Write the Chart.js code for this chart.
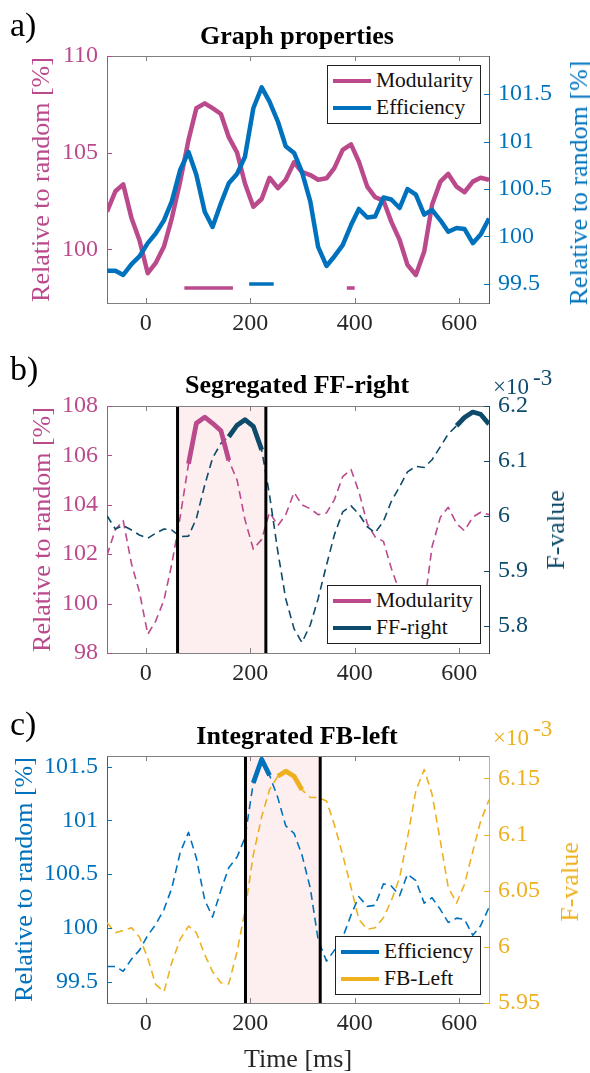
<!DOCTYPE html>
<html>
<head>
<meta charset="utf-8">
<script src="https://cdn.jsdelivr.net/npm/chart.js@4.4.1/dist/chart.umd.min.js"></script>
<style>
  body { margin: 0; background: #fff; }
  #fig { position: relative; width: 590px; height: 1073px; overflow: hidden; font-family: 'Liberation Serif', 'Times New Roman', serif; }
  #fig canvas { position: absolute; left: 0; }
  .txt { position: absolute; white-space: nowrap; line-height: 1; }
  .legend { position: absolute; background: #fff; border: 1px solid #222; box-sizing: border-box; }
  .legend .sw { position: absolute; height: 4.5px; width: 38px; }
  .legend .lt { position: absolute; font-size: 21.5px; line-height: 1; color: #111; white-space: nowrap; }
</style>
</head>
<body>
<div id="fig">
  <canvas id="panelA" width="590" height="345" style="top:0px"></canvas>
  <canvas id="panelB" width="590" height="355" style="top:345px"></canvas>
  <canvas id="panelC" width="590" height="373" style="top:700px"></canvas>
</div>
<script>
// time axis (ms), one sample every ~15.5 ms
const time = [-74, -58, -43, -27, -12, 4, 19, 35, 50, 66, 82, 97, 113, 128, 144, 159,
  175, 190, 206, 222, 237, 253, 268, 284, 299, 315, 330, 346, 361, 377, 393, 408,
  424, 439, 455, 470, 486, 501, 517, 533, 548, 564, 579, 595, 610, 626, 641, 657];

// relative to random [%]
const modularity = [101.95, 103.0, 103.36, 101.6, 100.48, 98.76, 99.28, 100.14, 101.6, 103.5,
  105.66, 107.3, 107.55, 107.3, 107.0, 105.8, 105.0, 103.4, 102.2, 102.6,
  103.7, 103.16, 103.6, 104.5, 104.0, 103.84, 103.6, 103.67, 104.2, 105.14,
  105.43, 104.53, 103.24, 102.7, 102.52, 101.43, 100.48, 99.19, 98.67, 99.88,
  102.3, 103.5, 103.9, 103.24, 102.95, 103.5, 103.7, 103.6];
const efficiency = [99.64, 99.64, 99.595, 99.71, 99.79, 99.93, 100.03, 100.17, 100.37, 100.7,
  100.89, 100.65, 100.26, 100.1, 100.35, 100.56, 100.66, 100.84, 101.35, 101.57,
  101.42, 101.21, 100.95, 100.88, 100.68, 100.37, 99.89, 99.69, 99.79, 99.91,
  100.12, 100.29, 100.2, 100.21, 100.41, 100.39, 100.3, 100.5, 100.44, 100.23,
  100.28, 100.17, 100.05, 100.09, 100.08, 99.93, 100.02, 100.19];

// F-values (x 10^-3)
const ffRight = [6.0, 5.976, 5.982, 5.974, 5.965, 5.959, 5.968, 5.976, 5.974, 5.962,
  5.963, 5.995, 6.056, 6.105, 6.132, 6.144, 6.165, 6.175, 6.163, 6.12,
  6.038, 5.934, 5.849, 5.794, 5.769, 5.801, 5.849, 5.91, 5.965, 6.007,
  6.018, 6.003, 5.98, 5.969, 5.99, 6.026, 6.053, 6.08, 6.09, 6.088,
  6.102, 6.126, 6.149, 6.164, 6.179, 6.189, 6.185, 6.167];
const fbLeft = [6.0215, 6.0126, 6.0147, 6.017, 6.0088, 5.99, 5.9666, 5.96, 5.986, 6.0067,
  6.0185, 6.0126, 5.993, 5.978, 5.968, 5.967, 5.996, 6.032, 6.082, 6.116,
  6.14, 6.152, 6.1565, 6.152, 6.14, 6.133, 6.133, 6.13, 6.109, 6.082,
  6.053, 6.0245, 6.0156, 6.017, 6.026, 6.041, 6.0616, 6.097, 6.139, 6.158,
  6.136, 6.094, 6.053, 6.039, 6.0556, 6.085, 6.112, 6.131];

// tick labels
const xTicks = [0, 200, 400, 600];
const modTicksA = [100, 105, 110];
const effTicksA = [99.5, 100, 100.5, 101, 101.5];
const modTicksB = [98, 100, 102, 104, 106, 108];
const ffTicksB = [5.8, 5.9, 6, 6.1, 6.2];
const effTicksC = [99.5, 100, 100.5, 101, 101.5];
const fbTicksC = [5.95, 6, 6.05, 6.1, 6.15];

// significant stretches (ms) and analysis windows
const modSigA = [[74, 167], [385, 400]];
const effSigA = [[198, 245]];
const windowB = [61, 230];
const modSigB = [[82, 159]];
const ffSigB = [[159, 222], [595, 657]];
const windowC = [191, 334];
const effSigC = [[206, 237]];
const fbSigC = [[253, 299]];

const PINK = '#bb4a8c';
const BLUE = '#0072bd';
const NAVY = '#0e4a6a';
const YELLOW = '#edb120';
const BOX = '#808080';
const SERIF = "'Liberation Serif', 'Times New Roman', serif";
const TICK_SIZE = 24;

const pts = vals => time.map((t, i) => ({ x: t, y: vals[i] }));
const inRanges = (t, ranges) => ranges.some(([lo, hi]) => t >= lo && t <= hi);
const sigPts = (vals, ranges) => time.map((t, i) => ({ x: t, y: inRanges(t, ranges) ? vals[i] : null }));
const barPts = (ranges, level) => ranges.flatMap(([lo, hi]) => [{ x: lo, y: level }, { x: hi, y: level }, { x: hi, y: null }]);

// box top edge, inward ticks, shaded window
const panelDecor = {
  id: 'panelDecor',
  beforeDatasetsDraw(chart, args, opts) {
    if (!opts.window) return;
    const { ctx, chartArea: a, scales: { x } } = chart;
    const x0 = x.getPixelForValue(opts.window[0]);
    const x1 = x.getPixelForValue(opts.window[1]);
    ctx.save();
    ctx.fillStyle = '#fdeff0';
    ctx.fillRect(x0, a.top, x1 - x0, a.bottom - a.top);
    ctx.restore();
  },
  afterDatasetsDraw(chart, args, opts) {
    const { ctx, chartArea: a, scales } = chart;
    ctx.save();
    if (opts.window) {
      ctx.strokeStyle = '#000';
      ctx.lineWidth = 3;
      opts.window.forEach(v => {
        const px = scales.x.getPixelForValue(v);
        ctx.beginPath(); ctx.moveTo(px, a.top); ctx.lineTo(px, a.bottom); ctx.stroke();
      });
    }
    ctx.lineWidth = 1;
    ctx.strokeStyle = BOX;
    ctx.beginPath(); ctx.moveTo(a.left, a.top + 0.5); ctx.lineTo(a.right, a.top + 0.5); ctx.stroke();
    const len = 5;
    scales.x.ticks.forEach(t => {
      const px = Math.round(scales.x.getPixelForValue(t.value)) + 0.5;
      ctx.beginPath();
      ctx.moveTo(px, a.bottom); ctx.lineTo(px, a.bottom - len);
      ctx.moveTo(px, a.top); ctx.lineTo(px, a.top + len);
      ctx.stroke();
    });
    ['y', 'y1'].forEach(id => {
      const s = scales[id];
      const left = s.position === 'left';
      const edge = left ? a.left : a.right;
      ctx.strokeStyle = s.options.border.color;
      s.ticks.forEach(t => {
        const py = Math.round(s.getPixelForValue(t.value)) + 0.5;
        ctx.beginPath(); ctx.moveTo(edge, py); ctx.lineTo(edge + (left ? len : -len), py); ctx.stroke();
      });
    });
    ctx.restore();
  }
};

function yAxis(position, min, max, ticks, color, width, title, titlePad) {
  return {
    type: 'linear', position, min, max, bounds: 'data',
    afterBuildTicks: s => { s.ticks = ticks.map(v => ({ value: v })); },
    afterFit: s => { s.width = width; },
    grid: { drawOnChartArea: false, drawTicks: false },
    border: { color, width: 1 },
    ticks: { color, padding: 9, font: { family: SERIF, size: TICK_SIZE }, callback: v => String(v) },
    title: title
      ? { display: true, text: title, color, font: { family: SERIF, size: 26, lineHeight: 1 }, padding: { top: titlePad, bottom: 0 } }
      : { display: false }
  };
}

function xAxis(height, title) {
  return {
    type: 'linear', min: -74, max: 657, bounds: 'data',
    afterBuildTicks: s => { s.ticks = xTicks.map(v => ({ value: v })); },
    afterFit: s => { s.height = height; },
    grid: { drawOnChartArea: false, drawTicks: false },
    border: { color: BOX, width: 1 },
    ticks: { color: '#262626', padding: 6, maxRotation: 0, autoSkip: false, font: { family: SERIF, size: TICK_SIZE } },
    title: title
      ? { display: true, text: title, color: '#262626', font: { family: SERIF, size: 26, lineHeight: 1 }, padding: { top: 0, bottom: 0 } }
      : { display: false }
  };
}

function makeChart(id, padTop, datasets, scales, decor) {
  return new Chart(document.getElementById(id), {
    type: 'line',
    data: { datasets },
    options: {
      responsive: false,
      animation: false,
      devicePixelRatio: 1,
      layout: { padding: { top: padTop, left: 0, right: 0, bottom: 0 } },
      elements: { point: { radius: 0 }, line: { tension: 0, borderJoinStyle: 'round' } },
      plugins: { legend: { display: false }, tooltip: { enabled: false }, panelDecor: decor },
      scales
    },
    plugins: [panelDecor]
  });
}

const dashed = { borderWidth: 1.6, borderDash: [8, 5], clip: 0 };
const thick = { borderWidth: 4.8, borderCapStyle: 'butt', clip: 0 };

function drawCharts() {
  // a) Graph properties
  makeChart('panelA', 56, [
    { label: 'Efficiency', data: pts(efficiency), yAxisID: 'y1', borderColor: BLUE, borderWidth: 4.5, clip: 0, order: 1 },
    { label: 'Modularity', data: pts(modularity), yAxisID: 'y', borderColor: PINK, borderWidth: 4.5, clip: 0, order: 2 },
    { label: 'Modularity sig.', data: barPts(modSigA, 98), yAxisID: 'y', borderColor: PINK, borderWidth: 3.5, borderCapStyle: 'butt', order: 3 },
    { label: 'Efficiency sig.', data: barPts(effSigA, 99.5), yAxisID: 'y1', borderColor: BLUE, borderWidth: 3.5, borderCapStyle: 'butt', order: 3 }
  ], {
    x: xAxis(42),
    y: yAxis('left', 97.22, 110, modTicksA, PINK, 107, 'Relative to random [%]', 29),
    y1: yAxis('right', 99.3, 101.9, effTicksA, BLUE, 101)
  }, {});

  // b) Segregated FF-right
  makeChart('panelB', 61, [
    { label: 'Modularity sig.', data: sigPts(modularity, modSigB), yAxisID: 'y', borderColor: PINK, ...thick, order: 1 },
    { label: 'FF-right sig.', data: sigPts(ffRight, ffSigB), yAxisID: 'y1', borderColor: NAVY, ...thick, order: 1 },
    { label: 'Modularity', data: pts(modularity), yAxisID: 'y', borderColor: PINK, ...dashed, order: 3 },
    { label: 'FF-right', data: pts(ffRight), yAxisID: 'y1', borderColor: NAVY, ...dashed, order: 2 }
  ], {
    x: xAxis(47),
    y: yAxis('left', 98, 108, modTicksB, PINK, 107, 'Relative to random [%]', 30),
    y1: yAxis('right', 5.75, 6.2, ffTicksB, NAVY, 101)
  }, { window: windowB });

  // c) Integrated FB-left
  makeChart('panelC', 56, [
    { label: 'Efficiency sig.', data: sigPts(efficiency, effSigC), yAxisID: 'y', borderColor: BLUE, ...thick, order: 1 },
    { label: 'FB-Left sig.', data: sigPts(fbLeft, fbSigC), yAxisID: 'y1', borderColor: YELLOW, ...thick, order: 1 },
    { label: 'Efficiency', data: pts(efficiency), yAxisID: 'y', borderColor: BLUE, ...dashed, order: 2 },
    { label: 'FB-Left', data: pts(fbLeft), yAxisID: 'y1', borderColor: YELLOW, ...dashed, order: 3 }
  ], {
    x: xAxis(70, 'Time [ms]'),
    y: yAxis('left', 99.3, 101.6, effTicksC, BLUE, 107, 'Relative to random [%]', 12),
    y1: yAxis('right', 5.95, 6.17, fbTicksC, YELLOW, 101)
  }, { window: windowC });
}

// free text: panel letters, titles, exponents, right axis titles
const fig = document.getElementById('fig');
function addText(text, x, baseline, size, opts = {}) {
  const el = document.createElement('div');
  el.className = 'txt';
  el.textContent = text;
  el.style.fontSize = size + 'px';
  el.style.color = opts.color || '#000';
  if (opts.bold) el.style.fontWeight = 'bold';
  el.style.top = (baseline - 0.8375 * size) + 'px';
  el.style.left = x + 'px';
  if (opts.center) el.style.transform = 'translateX(-50%)';
  fig.appendChild(el);
}
function addVText(text, cx, cy, size, color) {
  const el = document.createElement('div');
  el.className = 'txt';
  el.textContent = text;
  el.style.fontSize = size + 'px';
  el.style.color = color;
  el.style.left = cx + 'px';
  el.style.top = cy + 'px';
  el.style.transform = 'translate(-50%, -50%) rotate(-90deg)';
  fig.appendChild(el);
}
function addLegend(left, top, width, entries) {
  const box = document.createElement('div');
  box.className = 'legend';
  box.style.left = left + 'px';
  box.style.top = top + 'px';
  box.style.width = width + 'px';
  box.style.height = '59px';
  entries.forEach(([label, color], i) => {
    const rowY = 16 + i * 27;
    const sw = document.createElement('div');
    sw.className = 'sw';
    sw.style.left = '5px';
    sw.style.top = (rowY - 2.25 - 1) + 'px';
    sw.style.background = color;
    box.appendChild(sw);
    const t = document.createElement('div');
    t.className = 'lt';
    t.textContent = label;
    t.style.left = '48px';
    t.style.top = (rowY - 12) + 'px';
    box.appendChild(t);
  });
  fig.appendChild(box);
}

addText('a)', 10, 36, 34);
addText('b)', 10, 380, 34);
addText('c)', 10, 735, 34);
addText('Graph properties', 297, 44.5, 26, { bold: true, center: true });
addText('Segregated FF-right', 297, 394, 26, { bold: true, center: true });
addText('Integrated FB-left', 297, 745, 26, { bold: true, center: true });
addText('\u00d710', 493, 394, 23, { color: NAVY });
addText('-3', 533, 385, 23, { color: NAVY });
addText('\u00d710', 493, 745, 23, { color: YELLOW });
addText('-3', 533, 736, 23, { color: YELLOW });
addVText('Relative to random [%]', 579, 183, 26, BLUE);
addVText('F-value', 556, 530, 26, NAVY);
addVText('F-value', 570, 882, 26, YELLOW);
addLegend(327, 65, 154, [['Modularity', PINK], ['Efficiency', BLUE]]);
addLegend(327, 585, 154, [['Modularity', PINK], ['FF-right', NAVY]]);
addLegend(335, 936, 146, [['Efficiency', BLUE], ['FB-Left', YELLOW]]);

// make sure the serif face is ready before the canvases draw text
const fontReady = document.fonts && document.fonts.load
  ? document.fonts.load(TICK_SIZE + "px 'Liberation Serif'")
  : Promise.resolve();
Promise.race([fontReady, new Promise(r => setTimeout(r, 400))]).then(drawCharts, drawCharts);
</script>
</body>
</html>
